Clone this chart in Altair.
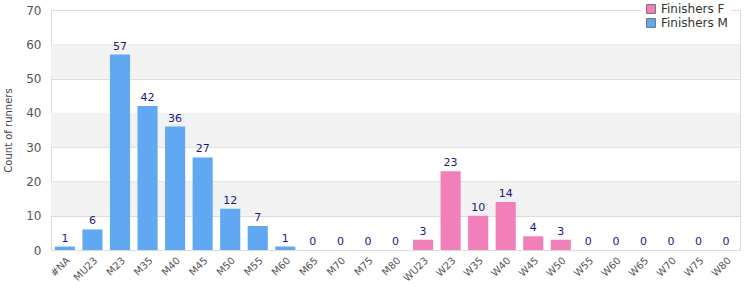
import altair as alt
import pandas as pd

categories = ["#NA", "MU23", "M23", "M35", "M40", "M45", "M50", "M55", "M60", "M65",
              "M70", "M75", "M80", "WU23", "W23", "W35", "W40", "W45", "W50", "W55",
              "W60", "W65", "W70", "W75", "W80"]
counts = [1, 6, 57, 42, 36, 27, 12, 7, 1, 0,
          0, 0, 0, 3, 23, 10, 14, 4, 3, 0,
          0, 0, 0, 0, 0]
series = ["Finishers M"] * 13 + ["Finishers F"] * 12

band_lo = [10, 30, 50]
band_hi = [20, 40, 60]
y_ticks = [0, 10, 20, 30, 40, 50, 60, 70]

df = pd.DataFrame({"Category": categories, "Count": counts, "Series": series})
bands = pd.DataFrame({"lo": band_lo, "hi": band_hi})

FONT = "DejaVu Sans"
y_scale = alt.Scale(domain=[0, 70], nice=False)
x_scale = alt.Scale(paddingInner=0.27, paddingOuter=0.14)

x_axis = alt.Axis(title=None, labelAngle=-45, labelAlign="right",
                  labelBaseline="top", labelFontSize=10, labelColor="#555",
                  ticks=False, domain=False, labelPadding=5, labelFont=FONT,
                  labelOverlap=False)
y_axis = alt.Axis(title="Count of runners", values=y_ticks,
                  titleFontSize=10, titleFontWeight="normal", titleColor="#444",
                  titleFont=FONT, labelFont=FONT, labelFontSize=12,
                  labelColor="#555", ticks=False, domain=False,
                  grid=True, gridColor="#dcdcdc", labelPadding=10,
                  titlePadding=12, labelOverlap=False)

band_layer = alt.Chart(bands).mark_rect(color="#f2f2f2").encode(
    y=alt.Y("lo:Q", scale=y_scale, axis=y_axis, title="Count of runners"),
    y2="hi:Q",
    x=alt.value(0),
    x2=alt.value(689),
)

bars = alt.Chart(df).mark_bar().encode(
    x=alt.X("Category:N", sort=categories, scale=x_scale, axis=x_axis),
    y=alt.Y("Count:Q", scale=y_scale, axis=y_axis, title="Count of runners"),
    color=alt.Color("Series:N",
                    scale=alt.Scale(domain=["Finishers F", "Finishers M"],
                                    range=["#f07fba", "#60a8f2"]),
                    legend=alt.Legend(title=None, orient="none", legendX=590, legendY=-11,
                                      symbolType="square", symbolSize=80,
                                      symbolStrokeColor="#777", symbolStrokeWidth=1,
                                      labelFontSize=12, labelFont=FONT, labelColor="#333",
                                      fillColor="white", padding=4, rowPadding=0)),
)

labels = alt.Chart(df).mark_text(dy=-8, fontSize=11, color="#1a1a80", font=FONT).encode(
    x=alt.X("Category:N", sort=categories, scale=x_scale, axis=x_axis),
    y=alt.Y("Count:Q", scale=y_scale, axis=y_axis, title="Count of runners"),
    text="Count:Q",
)

chart = alt.layer(band_layer, bars, labels).properties(
    width=689, height=240,
    padding={"left": 51, "top": 10, "right": 10, "bottom": 50},
    autosize=alt.AutoSizeParams(type="none"),
).configure_view(stroke="#d9d9d9", strokeWidth=1)

chart.save("out.html", embed_options={"renderer": "svg", "actions": False})
